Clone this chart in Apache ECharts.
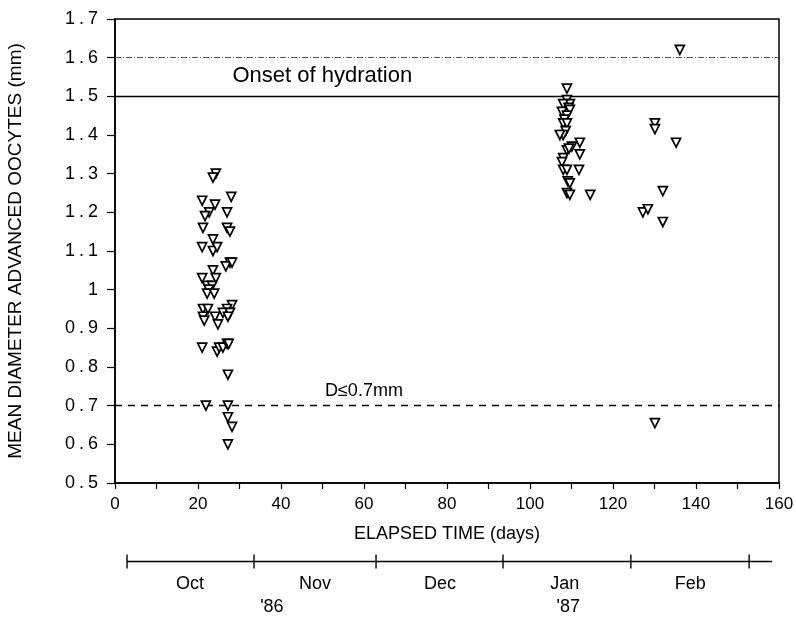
<!DOCTYPE html>
<html>
<head>
<meta charset="utf-8">
<script src="https://cdn.jsdelivr.net/npm/echarts@6/dist/echarts.min.js"></script>
<style>
html,body{margin:0;padding:0;background:#fff;}
#chart{width:796px;height:622px;}
</style>
</head>
<body>
<div id="chart"></div>
<script>
// ---- data (elapsed day, mean diameter mm) ----
const octPoints = [
  [24.3,1.30],[23.6,1.29],
  [21.0,1.23],[24.1,1.22],[28.0,1.24],
  [22.7,1.20],[21.7,1.19],[27.0,1.20],
  [21.2,1.16],[27.0,1.16],[27.7,1.15],
  [23.6,1.13],[21.0,1.11],
  [23.6,1.10],[24.6,1.11],
  [27.7,1.07],[26.7,1.06],[28.2,1.07],
  [23.6,1.05],[21.0,1.03],[24.3,1.03],
  [22.2,1.01],[23.4,1.01],[22.6,1.00],
  [22.2,0.99],[23.9,0.99],
  [21.2,0.95],[22.4,0.95],[28.2,0.96],[27.0,0.95],
  [21.2,0.93],[24.1,0.93],[26.0,0.94],[27.7,0.94],[27.2,0.93],
  [24.8,0.91],[21.5,0.92],
  [21.0,0.85],[24.6,0.84],[25.1,0.85],[26.0,0.85],[27.0,0.86],[27.4,0.86],
  [27.2,0.78],
  [21.9,0.70],[27.2,0.70],[27.2,0.67],[28.2,0.645],[27.2,0.60]
];
const janPoints = [
  [108.9,1.52],
  [108.9,1.49],[109.6,1.48],[108.0,1.48],[109.3,1.47],
  [107.7,1.46],[109.6,1.465],[108.9,1.45],[108.3,1.44],
  [108.0,1.43],[108.9,1.43],[108.6,1.41],
  [108.0,1.40],[107.2,1.40],
  [112.0,1.38],
  [108.9,1.36],[110.1,1.37],[109.4,1.365],
  [108.0,1.34],[107.7,1.33],[112.0,1.35],
  [108.0,1.31],[108.9,1.31],[111.8,1.31],
  [109.1,1.28],[109.6,1.275],
  [108.9,1.25],[109.6,1.245],[114.5,1.245]
];
const febPoints = [
  [136.1,1.62],
  [130.1,1.43],[130.1,1.415],
  [135.2,1.38],
  [132.0,1.255],
  [127.2,1.20],[128.4,1.208],
  [132.0,1.175],
  [130.1,0.655]
];
const refLines = { hydration: 1.5, upper: 1.6, small: 0.7 };
const annotationNames = ['Onset of hydration', 'D\u22640.7mm'];
const annotationPos = [[28.3, 1.553], [50.6, 0.738]];
const xTicks = { min: 0, max: 160, interval: 20 };
const yTicks = { min: 0.5, max: 1.7, interval: 0.1 };

// calendar strip below the x axis (positions in elapsed days)
const monthBounds = [2.9, 33.5, 62.9, 93.5, 124.3, 152.8];
const stripEnd = 158.3;
const monthNames = ['Oct', 'Nov', 'Dec', 'Jan', 'Feb'];
const monthCenters = [18.1, 48.2, 78.3, 108.4, 138.6];
const yearNames = ["'86", "'87"];
const yearCenters = [37.8, 109.2];
const stripRows = ['year', 'month', 'line'];

// ---- chart ----
const FONT = 'Liberation Sans';
const chart = echarts.init(document.getElementById('chart'), null, { renderer: 'canvas' });

const allPoints = octPoints.concat(janPoints, febPoints);

function spacedTick(v) {
  const s = String(Math.round(v * 10) / 10);
  const parts = s.split('.');
  if (parts.length === 1) return '{d|' + parts[0] + '}';
  return '{d|' + parts[0] + '}{p|.}{d|' + parts[1] + '}';
}

function annotationSeries(i, size) {
  return {
    type: 'scatter', xAxisIndex: 0, yAxisIndex: 0,
    data: [{ name: annotationNames[i], value: annotationPos[i] }],
    symbolSize: 0, silent: true,
    itemStyle: { opacity: 1 },
    label: {
      show: true, position: 'right', distance: 0,
      formatter: p => p.name, color: '#000', fontFamily: FONT, fontSize: size
    }
  };
}

const option = {
  backgroundColor: '#ffffff',
  animation: false,
  textStyle: { fontFamily: FONT, color: '#000' },
  grid: [
    { left: 115, right: 17, top: 19, bottom: 139, show: true, borderColor: '#000', borderWidth: 1.5, backgroundColor: 'transparent', containLabel: false, outerBoundsMode: 'none' },
    { left: 115, right: 17, top: 550, height: 69, containLabel: false, outerBoundsMode: 'none' }
  ],
  xAxis: [
    {
      gridIndex: 0, type: 'value', min: xTicks.min, max: xTicks.max, interval: xTicks.interval,
      name: 'ELAPSED TIME (days)', nameLocation: 'middle', nameGap: 42,
      nameTextStyle: { fontSize: 18, color: '#000', fontFamily: FONT },
      axisLine: { show: true, onZero: false, lineStyle: { color: '#000', width: 1.5 } },
      axisTick: { show: true, inside: false, length: 6, lineStyle: { color: '#000', width: 1.2 } },
      minorTick: { show: true, splitNumber: 2, length: 6, lineStyle: { color: '#000', width: 1.2 } },
      splitLine: { show: false },
      axisLabel: { fontSize: 17, color: '#000', margin: 13, fontFamily: FONT }
    },
    {
      gridIndex: 1, type: 'value', min: xTicks.min, max: xTicks.max,
      show: false
    }
  ],
  yAxis: [
    {
      gridIndex: 0, type: 'value', min: yTicks.min, max: yTicks.max, interval: yTicks.interval,
      name: 'MEAN DIAMETER ADVANCED OOCYTES (mm)', nameLocation: 'middle', nameGap: 90,
      nameTextStyle: { fontSize: 19, color: '#000', fontFamily: FONT },
      axisLine: { show: true, onZero: false, lineStyle: { color: '#000', width: 1.5 } },
      axisTick: { show: true, inside: false, length: 8, lineStyle: { color: '#000', width: 1.2 } },
      splitLine: { show: false },
      axisLabel: {
        color: '#000', margin: 17, fontFamily: FONT,
        formatter: spacedTick,
        rich: {
          d: { fontSize: 18, color: '#000', fontFamily: FONT },
          p: { fontSize: 18, color: '#000', fontFamily: FONT, padding: [0, 4, 0, 4] }
        }
      }
    },
    {
      gridIndex: 1, type: 'category', data: stripRows,
      show: false
    }
  ],
  series: [
    {
      type: 'scatter', xAxisIndex: 0, yAxisIndex: 0,
      data: allPoints,
      symbol: 'triangle', symbolRotate: 180, symbolSize: 9,
      itemStyle: { color: '#fff', borderColor: '#000', borderWidth: 1.7, opacity: 1 },
      z: 5,
      markLine: {
        silent: true, symbol: 'none', label: { show: false },
        data: [
          { yAxis: refLines.upper, lineStyle: { color: '#555', width: 1, type: [6, 2, 1, 2] } },
          { yAxis: refLines.hydration, lineStyle: { color: '#000', width: 1.3, type: 'solid' } },
          { yAxis: refLines.small, lineStyle: { color: '#000', width: 1.3, type: [7, 6] } }
        ]
      }
    },
    annotationSeries(0, 22),
    annotationSeries(1, 18),
    // calendar strip
    {
      type: 'line', xAxisIndex: 1, yAxisIndex: 1, silent: true,
      data: [[monthBounds[0], 'line'], [stripEnd, 'line']],
      symbol: 'none', lineStyle: { color: '#000', width: 1.5 }
    },
    {
      type: 'scatter', xAxisIndex: 1, yAxisIndex: 1, silent: true,
      data: monthBounds.map(d => [d, 'line']),
      symbol: 'rect', symbolSize: [1.4, 14], itemStyle: { color: '#000', opacity: 1 }
    },
    {
      type: 'scatter', xAxisIndex: 1, yAxisIndex: 1, silent: true,
      data: monthNames.map((m, i) => ({ name: m, value: [monthCenters[i], 'month'] })),
      symbolSize: 0, itemStyle: { opacity: 1 },
      label: { show: true, position: 'inside', formatter: p => p.name, color: '#000', fontSize: 18, fontFamily: FONT }
    },
    {
      type: 'scatter', xAxisIndex: 1, yAxisIndex: 1, silent: true,
      data: yearNames.map((m, i) => ({ name: m, value: [yearCenters[i], 'year'] })),
      symbolSize: 0, itemStyle: { opacity: 1 },
      label: { show: true, position: 'inside', formatter: p => p.name, color: '#000', fontSize: 18, fontFamily: FONT }
    }
  ]
};
chart.setOption(option);
</script>
</body>
</html>
